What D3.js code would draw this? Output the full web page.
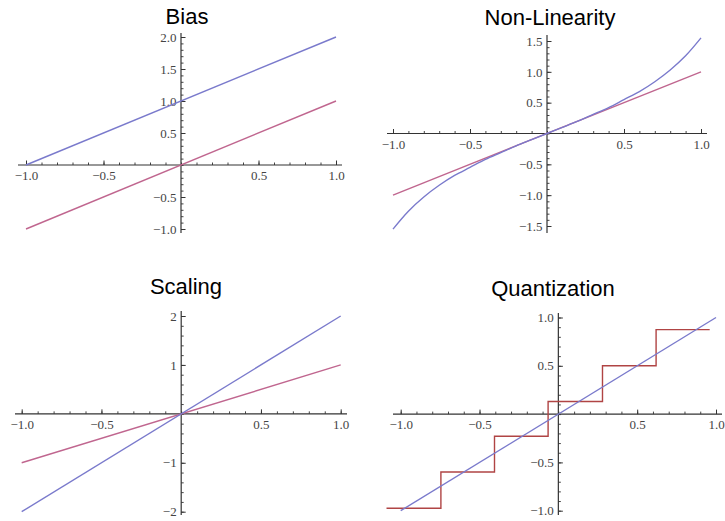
<!DOCTYPE html>
<html>
<head>
<meta charset="utf-8">
<script src="https://cdn.jsdelivr.net/npm/d3@7"></script>
<style>
  body { margin: 0; background: #fff; }
  .tick text { font-family: "Liberation Serif", "DejaVu Serif", serif; font-size: 13px; fill: #444; }
  .title { font-family: "Liberation Sans", Arial, sans-serif; font-size: 22px; fill: #000; text-anchor: middle; }
</style>
</head>
<body>
<svg id="chart" width="725" height="521"></svg>
<script>
// input range shared by all straight lines
var lineX = [-1, 1];

// Bias
var biasIdeal = [-1, 1];
var biasOut = [0, 2];

// Non-Linearity (curve)
var nlX = [-1, -0.9, -0.8, -0.7, -0.6, -0.5, -0.4, -0.3, -0.2, -0.1, 0, 0.1, 0.2, 0.3, 0.4, 0.5, 0.6, 0.7, 0.8, 0.9, 1];
var nlOut = [-1.55, -1.26, -1.03, -0.84, -0.68, -0.55, -0.42, -0.31, -0.2, -0.1, 0, 0.1, 0.2, 0.31, 0.42, 0.55, 0.68, 0.84, 1.03, 1.26, 1.55];
var nlIdeal = [-1, 1];

// Scaling
var scaleIdeal = [-1, 1];
var scaleOut = [-2, 2];

// Quantization
var quantIdeal = [-1, 1];
var stepX = [-1.09, -0.745, -0.405, -0.065, 0.28, 0.62, 0.96];
var stepY = [-0.975, -0.6, -0.23, 0.13, 0.5, 0.875, 0.875];

// tick labels
var xTicks = [-1, -0.5, 0.5, 1];
var biasYTicks = [-1, -0.5, 0.5, 1, 1.5, 2];
var nlYTicks = [-1.5, -1, -0.5, 0.5, 1, 1.5];
var scaleYTicks = [-2, -1, 1, 2];
var quantYTicks = [-1, -0.5, 0.5, 1];

var blue = "#7a7acc", pink = "#c0668f", red = "#b04444";

var svg = d3.select("#chart");

function panel(o) {
    var x = d3.scaleLinear().domain([-1, 1]).range(o.xr);
    var y = d3.scaleLinear().domain(o.yd).range(o.yr);
    var g = svg.append("g");

    g.append("text").attr("class", "title")
        .attr("x", o.tx).attr("y", o.ty).text(o.title);

    var f1 = d3.format(o.fmt);
    var fmt = function (d) { return d === 0 ? "" : f1(d); };

    // minor ticks
    g.append("g").attr("transform", "translate(0," + y(0) + ")")
        .call(d3.axisBottom(x).tickValues(d3.range(-10, 11).map(function (i) { return i / 10; }))
            .tickSizeInner(-2.5).tickSizeOuter(0).tickFormat(""))
        .call(function (s) { s.select(".domain").remove(); s.selectAll("line").attr("stroke", "#444"); });
    g.append("g").attr("transform", "translate(" + x(0) + ",0)")
        .call(d3.axisLeft(y).tickValues(o.yMinor)
            .tickSizeInner(-2.5).tickSizeOuter(0).tickFormat(""))
        .call(function (s) { s.select(".domain").remove(); s.selectAll("line").attr("stroke", "#444"); });

    // major ticks + labels
    g.append("g").attr("transform", "translate(0," + y(0) + ")")
        .call(d3.axisBottom(x).tickValues(xTicks).tickSizeInner(-4.5).tickSizeOuter(0)
            .tickPadding(6).tickFormat(d3.format(".1f")))
        .call(function (s) { s.select(".domain").remove(); s.selectAll("line").attr("stroke", "#333"); });
    g.append("g").attr("transform", "translate(" + x(0) + ",0)")
        .call(d3.axisLeft(y).tickValues(o.yTicks).tickSizeInner(-4.5).tickSizeOuter(0)
            .tickPadding(4.5).tickFormat(fmt))
        .call(function (s) { s.select(".domain").remove(); s.selectAll("line").attr("stroke", "#333"); });

    // axis lines
    g.append("line").attr("x1", o.ax[0]).attr("x2", o.ax[1])
        .attr("y1", y(0)).attr("y2", y(0)).attr("stroke", "#333").attr("stroke-width", 1.2);
    g.append("line").attr("x1", x(0)).attr("x2", x(0))
        .attr("y1", o.ay[0]).attr("y2", o.ay[1]).attr("stroke", "#333").attr("stroke-width", 1.2);

    o.series.forEach(function (s) {
        var line = d3.line()
            .x(function (d, i) { return x(s.x[i]); })
            .y(function (d) { return y(d); })
            .curve(s.curve || d3.curveLinear);
        g.append("path").datum(s.y)
            .attr("d", line)
            .attr("fill", "none")
            .attr("stroke", s.color)
            .attr("stroke-width", 1.4);
    });
}

function minor(a, b, step) {
    return d3.range(Math.round(a / step), Math.round(b / step) + 1).map(function (i) { return +(i * step).toFixed(2); });
}

panel({
    title: "Bias", tx: 187, ty: 24,
    xr: [26, 336], yd: [-1, 2], yr: [229, 37],
    ax: [18, 342], ay: [33, 233],
    yTicks: biasYTicks, yMinor: minor(-1, 2, 0.1), fmt: ".1f",
    series: [
        { x: lineX, y: biasIdeal, color: pink },
        { x: lineX, y: biasOut, color: blue }
    ]
});

panel({
    title: "Non-Linearity", tx: 550, ty: 25,
    xr: [393, 701], yd: [-1.5, 1.5], yr: [226, 41],
    ax: [387, 707], ay: [35, 233],
    yTicks: nlYTicks, yMinor: minor(-1.5, 1.5, 0.1), fmt: ".1f",
    series: [
        { x: lineX, y: nlIdeal, color: pink },
        { x: nlX, y: nlOut, color: blue, curve: d3.curveCatmullRom }
    ]
});

panel({
    title: "Scaling", tx: 186, ty: 294,
    xr: [21.7, 340.7], yd: [-2, 2], yr: [511.7, 316],
    ax: [15, 347], ay: [311, 515],
    yTicks: scaleYTicks, yMinor: minor(-2, 2, 0.2), fmt: "d",
    series: [
        { x: lineX, y: scaleIdeal, color: pink },
        { x: lineX, y: scaleOut, color: blue }
    ]
});

panel({
    title: "Quantization", tx: 553, ty: 296,
    xr: [400.7, 716], yd: [-1, 1], yr: [510.7, 317.5],
    ax: [393, 722], ay: [313, 515],
    yTicks: quantYTicks, yMinor: minor(-1, 1, 0.1), fmt: ".1f",
    series: [
        { x: stepX, y: stepY, color: red, curve: d3.curveStepAfter },
        { x: lineX, y: quantIdeal, color: blue }
    ]
});
</script>
</body>
</html>
